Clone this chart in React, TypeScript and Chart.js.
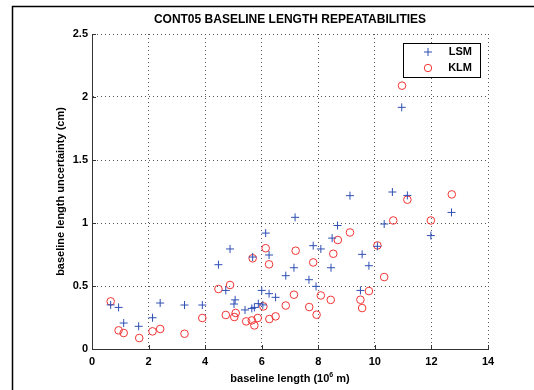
import React, { useEffect, useRef } from "react";
import { Chart, registerables } from "chart.js";
Chart.register(...registerables);

const lsmX = [0.66, 0.94, 1.12, 1.65, 2.14, 2.41, 3.27, 3.9, 4.47, 4.73, 4.88, 5.06, 5.02, 5.41, 5.65, 5.74, 5.88, 6.04, 5.68, 6.0, 6.14, 6.26, 6.26, 6.49, 6.85, 7.14, 7.18, 7.67, 7.82, 7.92, 8.09, 8.45, 8.49, 8.68, 9.12, 9.49, 9.55, 9.79, 10.09, 10.33, 10.62, 10.95, 11.15, 11.98, 12.71];
const lsmY = [0.35, 0.33, 0.206, 0.18, 0.248, 0.365, 0.349, 0.349, 0.669, 0.465, 0.794, 0.39, 0.357, 0.31, 0.322, 0.33, 0.36, 0.35, 0.73, 0.465, 0.92, 0.746, 0.439, 0.41, 0.582, 0.645, 1.045, 0.55, 0.82, 0.497, 0.794, 0.645, 0.88, 0.98, 1.217, 0.465, 0.751, 0.661, 0.815, 0.992, 1.246, 1.918, 1.219, 0.9, 1.084];

const klmX = [0.66, 0.94, 1.12, 1.67, 2.14, 2.41, 3.27, 3.9, 4.47, 4.73, 4.88, 5.08, 5.03, 5.45, 5.65, 5.74, 5.86, 6.06, 5.68, 6.14, 6.26, 6.27, 6.49, 6.85, 7.14, 7.2, 7.68, 7.82, 7.94, 8.09, 8.44, 8.53, 8.69, 9.12, 9.49, 9.55, 9.79, 10.09, 10.33, 10.65, 10.96, 11.15, 11.98, 12.72];
const klmY = [0.378, 0.148, 0.127, 0.087, 0.14, 0.159, 0.121, 0.246, 0.476, 0.27, 0.508, 0.286, 0.254, 0.219, 0.227, 0.187, 0.246, 0.338, 0.72, 0.8, 0.672, 0.238, 0.259, 0.345, 0.431, 0.78, 0.333, 0.687, 0.272, 0.425, 0.39, 0.756, 0.865, 0.925, 0.391, 0.325, 0.46, 0.822, 0.571, 1.02, 2.09, 1.185, 1.02, 1.227];

const xTicks = [0, 2, 4, 6, 8, 10, 12, 14];
const yTicks = [0, 0.5, 1, 1.5, 2, 2.5];
const seriesNames = ["LSM", "KLM"];
const titleText = "CONT05 BASELINE LENGTH REPEATABILITIES";
const xLabelMain = "baseline length (10";
const xLabelSup = "6";
const xLabelEnd = " m)";
const yLabelText = "baseline length uncertainty (cm)";

const BLUE = "#2f4fb4";
const RED = "#f03434";
const FONT = "'Liberation Sans', Arial, Helvetica, sans-serif";

const decor = {
  id: "decor",
  afterDraw(chart: any) {
    const ctx = chart.ctx as CanvasRenderingContext2D;
    const xs = chart.scales.x;
    const ys = chart.scales.y;
    const area = chart.chartArea;
    ctx.save();
    // outer frame
    ctx.strokeStyle = "#000";
    ctx.lineWidth = 1.5;
    ctx.beginPath();
    ctx.moveTo(12.5, 390);
    ctx.lineTo(12.5, 6.5);
    ctx.lineTo(534, 6.5);
    ctx.stroke();

    // inward ticks
    ctx.strokeStyle = "#333";
    ctx.lineWidth = 1;
    ctx.beginPath();
    for (const v of xTicks) {
      const px = Math.round(xs.getPixelForValue(v)) + 0.5;
      ctx.moveTo(px, area.bottom);
      ctx.lineTo(px, area.bottom - 4);
    }
    for (const v of yTicks) {
      const py = Math.round(ys.getPixelForValue(v)) + 0.5;
      ctx.moveTo(area.left, py);
      ctx.lineTo(area.left + 4, py);
    }
    ctx.stroke();

    ctx.fillStyle = "#000";
    // title
    ctx.font = `bold 12px ${FONT}`;
    ctx.textAlign = "center";
    ctx.textBaseline = "middle";
    ctx.fillText(titleText, (area.left + area.right) / 2, 20);

    // x label with superscript
    const mainFont = `bold 11px ${FONT}`;
    const supFont = `bold 7px ${FONT}`;
    ctx.font = mainFont;
    const w1 = ctx.measureText(xLabelMain).width;
    const w3 = ctx.measureText(xLabelEnd).width;
    ctx.font = supFont;
    const w2 = ctx.measureText(xLabelSup).width;
    const total = w1 + w2 + w3;
    let sx = (area.left + area.right) / 2 - total / 2;
    const ly = 379;
    ctx.textAlign = "left";
    ctx.font = mainFont;
    ctx.fillText(xLabelMain, sx, ly);
    sx += w1;
    ctx.font = supFont;
    ctx.fillText(xLabelSup, sx, ly - 4);
    sx += w2;
    ctx.font = mainFont;
    ctx.fillText(xLabelEnd, sx, ly);

    // y label
    ctx.save();
    ctx.translate(61, (area.top + area.bottom) / 2);
    ctx.rotate(-Math.PI / 2);
    ctx.textAlign = "center";
    ctx.font = mainFont;
    ctx.fillText(yLabelText, 0, 0);
    ctx.restore();

    // legend
    const lx = 403.5, ly0 = 43.5, lw = 77, lh = 34;
    ctx.fillStyle = "#fff";
    ctx.fillRect(lx, ly0, lw, lh);
    ctx.strokeStyle = "#000";
    ctx.lineWidth = 1;
    ctx.strokeRect(lx, ly0, lw, lh);
    // plus
    ctx.strokeStyle = BLUE;
    ctx.beginPath();
    ctx.moveTo(424, 52);
    ctx.lineTo(432, 52);
    ctx.moveTo(428, 48);
    ctx.lineTo(428, 56);
    ctx.stroke();
    // circle
    ctx.strokeStyle = RED;
    ctx.beginPath();
    ctx.arc(428, 68, 3.7, 0, Math.PI * 2);
    ctx.stroke();
    ctx.fillStyle = "#000";
    ctx.font = `bold 11px ${FONT}`;
    ctx.textAlign = "right";
    ctx.textBaseline = "middle";
    ctx.fillText(seriesNames[0], 472, 52);
    ctx.fillText(seriesNames[1], 472, 68);
    ctx.restore();
  },
};

export default function App() {
  const ref = useRef<HTMLCanvasElement | null>(null);
  useEffect(() => {
    if (!ref.current) return;
    const chart = new Chart(ref.current, {
      type: "scatter",
      data: {
        datasets: [
          {
            label: seriesNames[0],
            data: lsmX.map((x, i) => ({ x, y: lsmY[i] })),
            pointStyle: "cross",
            radius: 4,
            borderColor: BLUE,
            backgroundColor: BLUE,
            borderWidth: 1,
          },
          {
            label: seriesNames[1],
            data: klmX.map((x, i) => ({ x, y: klmY[i] })),
            pointStyle: "circle",
            radius: 3.8,
            borderColor: RED,
            backgroundColor: "rgba(0,0,0,0)",
            borderWidth: 1,
          },
        ],
      },
      plugins: [decor],
      options: {
        animation: false,
        responsive: false,
        devicePixelRatio: 1,
        layout: { padding: { left: 0, top: 34, right: 46, bottom: 0 } },
        plugins: { legend: { display: false }, tooltip: { enabled: false }, title: { display: false } },
        scales: {
          x: {
            type: "linear",
            min: 0,
            max: 14,
            afterBuildTicks: (s: any) => { s.ticks = xTicks.map((v) => ({ value: v })); },
            afterFit: (s: any) => { s.height = 41; },
            grid: { color: "#555", lineWidth: 1, drawTicks: false },
            border: { display: true, color: "#333", width: 1, dash: [1, 3] },
            ticks: { color: "#000", font: { family: FONT, size: 11, weight: "bold" }, padding: 6, maxRotation: 0, callback: (v: any) => String(v) },
          },
          y: {
            type: "linear",
            min: 0,
            max: 2.5,
            afterBuildTicks: (s: any) => { s.ticks = yTicks.map((v) => ({ value: v })); },
            afterFit: (s: any) => { s.width = 92; },
            grid: { color: "#555", lineWidth: 1, drawTicks: false },
            border: { display: true, color: "#333", width: 1, dash: [1, 3] },
            ticks: { color: "#000", font: { family: FONT, size: 11, weight: "bold" }, padding: 4, callback: (v: any) => String(v) },
          },
        },
      } as any,
    });
    return () => chart.destroy();
  }, []);
  return (
    <div style={{ position: "fixed", left: 0, top: 0, width: 534, height: 390, background: "#fff" }}>
      <canvas ref={ref} width={534} height={390} style={{ width: 534, height: 390, display: "block" }} />
    </div>
  );
}
